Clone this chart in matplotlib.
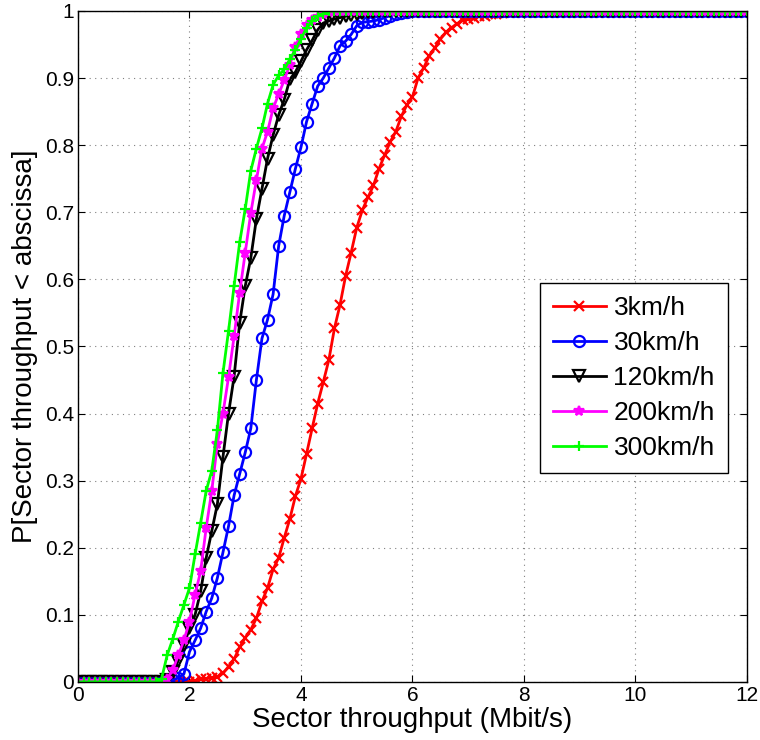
import matplotlib
matplotlib.use("Agg")
import matplotlib.pyplot as plt
import numpy as np

plt.rcParams['font.family'] = ['Liberation Sans', 'DejaVu Sans']

# x grid of the CDF (Mbit/s), one sample every 0.1
throughput = np.round(np.arange(0, 121) * 0.1, 1)

# P[throughput < x] for each speed
cdf_3 = [0.0] * 21 + [
    0.002, 0.004, 0.005, 0.006, 0.007, 0.013, 0.023, 0.034, 0.052, 0.066,
    0.078, 0.095, 0.12, 0.14, 0.168, 0.185, 0.215, 0.243, 0.277, 0.303,
    0.34, 0.378, 0.415, 0.447, 0.48, 0.527, 0.562, 0.605, 0.64, 0.677,
    0.703, 0.722, 0.74, 0.765, 0.785, 0.805, 0.82, 0.843, 0.86, 0.872,
    0.9, 0.915, 0.933, 0.945, 0.958, 0.968, 0.975, 0.981, 0.986, 0.988,
    0.99, 0.992, 0.993, 0.995, 0.996, 0.997, 0.998, 0.999, 0.999,
] + [1.0] * 41
cdf_30 = [0.0] * 17 + [
    0.003, 0.006, 0.012, 0.045, 0.062, 0.08, 0.105, 0.125, 0.155, 0.193,
    0.232, 0.278, 0.31, 0.342, 0.378, 0.45, 0.512, 0.54, 0.578, 0.65,
    0.695, 0.73, 0.765, 0.797, 0.835, 0.862, 0.888, 0.9, 0.915, 0.93,
    0.948, 0.955, 0.965, 0.978, 0.983, 0.984, 0.985, 0.987, 0.99, 0.993,
    0.995, 0.997, 0.998,
] + [1.0] * 61
cdf_120 = [0.0] * 16 + [
    0.003, 0.015, 0.032, 0.055, 0.08, 0.1, 0.135, 0.185, 0.225, 0.265,
    0.335, 0.4, 0.455, 0.535, 0.59, 0.632, 0.69, 0.735, 0.78, 0.815,
    0.845, 0.868, 0.898, 0.909, 0.925, 0.942, 0.956, 0.972, 0.982, 0.985,
    0.988, 0.99, 0.992, 0.994, 0.996, 0.997, 0.998, 0.999,
] + [1.0] * 67
cdf_200 = [0.0] * 16 + [
    0.005, 0.018, 0.04, 0.062, 0.09, 0.13, 0.165, 0.23, 0.285, 0.355,
    0.4, 0.454, 0.515, 0.58, 0.64, 0.699, 0.748, 0.795, 0.82, 0.855,
    0.876, 0.897, 0.92, 0.947, 0.966, 0.979, 0.986, 0.991, 0.995, 0.998,
] + [1.0] * 75
cdf_300 = [0.0] * 15 + [
    0.005, 0.04, 0.064, 0.09, 0.115, 0.14, 0.19, 0.237, 0.285, 0.315,
    0.375, 0.46, 0.523, 0.59, 0.655, 0.705, 0.762, 0.795, 0.825, 0.862,
    0.89, 0.904, 0.913, 0.928, 0.942, 0.958, 0.975, 0.985, 0.992, 0.996,
] + [1.0] * 76

labels = ['3km/h', '30km/h', '120km/h', '200km/h', '300km/h']
colors = ['#ff0000', '#0000ff', '#000000', '#ff00ff', '#00ff00']
markers = ['x', 'o', 'v', '*', '+']

fig = plt.figure(figsize=(7.6, 7.4), dpi=100)
ax = fig.add_axes([0.1026, 0.0784, 0.8803, 0.9068])

for y, lab, c, m in zip([cdf_3, cdf_30, cdf_120, cdf_200, cdf_300], labels, colors, markers):
    ms = 8 if m in ('o', 'v') else 7
    ax.plot(throughput, y, color=c, marker=m, markersize=ms, linewidth=2,
            markeredgewidth=1.6, markerfacecolor='none' if m in ('o', 'v') else c,
            label=lab)

ax.set_xlim(0, 12)
ax.set_ylim(0, 1)
ax.set_xticks(np.arange(0, 13, 2))
ax.set_yticks(np.round(np.arange(0, 1.01, 0.1), 1))
ax.set_yticklabels(['0', '0.1', '0.2', '0.3', '0.4', '0.5', '0.6', '0.7', '0.8', '0.9', '1'])
ax.tick_params(direction='in', top=True, right=True, labelsize=15, length=5, pad=3)
ax.grid(True, color='#808080', linestyle=(0, (1, 4)), linewidth=0.8)
for s in ax.spines.values():
    s.set_linewidth(1.0)

ax.set_xlabel('Sector throughput (Mbit/s)', fontsize=20, labelpad=1)
ax.set_ylabel('P[Sector throughput < abscissa]', fontsize=20, labelpad=5)

leg = ax.legend(loc='upper left', bbox_to_anchor=(0.69, 0.595), fontsize=19,
                fancybox=False, framealpha=1, edgecolor='black',
                handlelength=2.0, handletextpad=0.3, borderpad=0.5,
                labelspacing=0.42, borderaxespad=0)
leg.get_frame().set_linewidth(1.0)

fig.savefig('out.png', dpi=100)
